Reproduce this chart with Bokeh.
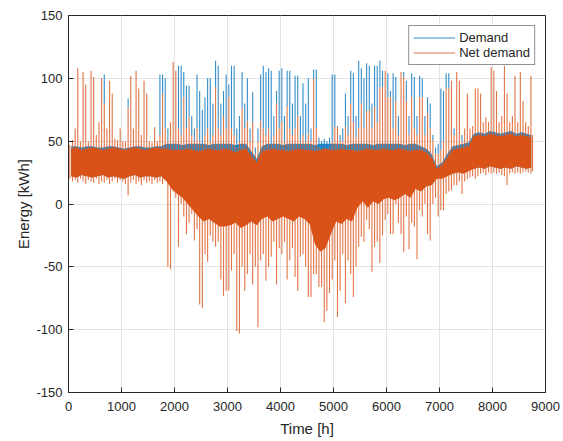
from bokeh.plotting import figure
from bokeh.models import Legend, LegendItem, FixedTicker, Range1d, ColumnDataSource
from bokeh.embed import file_html
from bokeh.resources import INLINE

YEAR_END = 8760  # hours in the year

# ---- 50-hour bins: estimated extremes [kWh] ----
hours50 = list(range(0, 8800, 50))
demand_max = [47, 51, 60, 108, 50, 105, 95, 50, 106, 101,
              55, 65, 100, 103, 60, 98, 88, 52, 51, 60,
              50, 50, 84, 102, 60, 106, 92, 55, 98, 88,
              50, 49, 61, 50, 103, 103, 100, 60, 65, 113,
              106, 110, 110, 105, 94, 94, 70, 60, 103, 90,
              75, 85, 100, 100, 80, 114, 110, 80, 90, 103,
              95, 110, 110, 60, 70, 105, 80, 100, 60, 89,
              45, 60, 103, 110, 105, 108, 106, 70, 90, 106,
              108, 70, 106, 106, 80, 102, 102, 70, 96, 80,
              100, 60, 107, 107, 53, 50, 52, 50, 53, 103,
              103, 62, 55, 60, 88, 70, 106, 104, 70, 114,
              108, 100, 112, 110, 80, 110, 110, 114, 106, 106,
              104, 90, 104, 101, 70, 105, 105, 98, 70, 104,
              101, 70, 102, 100, 70, 85, 80, 55, 45, 48,
              92, 90, 104, 104, 98, 60, 105, 98, 55, 60,
              88, 60, 62, 92, 92, 88, 65, 69, 65, 109,
              106, 90, 65, 70, 110, 88, 65, 70, 102, 65,
              105, 82, 65, 62, 102, 55]
net_max = [47, 51, 60, 108, 50, 105, 95, 50, 106, 101,
           55, 65, 100, 80, 60, 98, 88, 52, 51, 60,
           50, 50, 77, 102, 60, 106, 92, 55, 98, 88,
           50, 49, 61, 50, 55, 88, 60, 50, 65, 113,
           106, 60, 55, 85, 60, 69, 55, 50, 60, 50,
           48, 55, 60, 50, 55, 93, 60, 55, 70, 60,
           85, 60, 55, 45, 50, 76, 60, 66, 50, 65,
           40, 50, 66, 60, 55, 60, 48, 55, 80, 60,
           65, 50, 78, 60, 55, 60, 70, 50, 55, 50,
           56, 50, 100, 60, 45, 44, 45, 44, 45, 50,
           61, 61, 50, 50, 61, 55, 80, 65, 53, 60,
           80, 60, 74, 74, 60, 77, 65, 93, 93, 106,
           85, 85, 60, 82, 55, 105, 101, 82, 55, 85,
           60, 55, 85, 85, 55, 72, 60, 51, 40, 40,
           43, 50, 92, 92, 98, 55, 105, 98, 50, 60,
           88, 60, 62, 92, 92, 88, 65, 69, 65, 109,
           106, 90, 65, 70, 110, 88, 65, 70, 102, 65,
           105, 82, 65, 62, 102, 55]
net_min = [20, 18, 19, 17, 20, 18, 16, 19, 18, 17,
           20, 16, 18, 17, 19, 16, 18, 20, 17, 19,
           18, 16, 7, 17, 19, 16, 18, 15, 19, 17,
           18, 16, 19, 17, 18, 16, 19, -50, -52, 10,
           5, -34, 0, -10, -24, -15, -8, -29, -20, -80,
           -83, -40, -46, -25, -30, -34, -30, -60, -73, -69,
           -69, -53, -40, -101, -103, -50, -69, -56, -40, -64,
           -50, -98, -45, -40, -61, -50, -42, -30, -64, -35,
           -40, -30, -60, -45, -35, -58, -69, -42, -40, -50,
           -74, -74, -56, -56, -66, -66, -94, -85, -71, -60,
           -45, -90, -69, -40, -79, -45, -56, -74, -50, -34,
           -26, -30, -13, -20, -54, -34, -30, -47, -25, -13,
           -8, -24, -24, 0, -15, -24, -38, -10, -36, -15,
           -18, -44, -5, -10, 0, -24, -29, 0, 5, -10,
           -5, -5, 8, 10, 11, 15, 15, 18, 8, 18,
           20, 21, 22, 20, 22, 24, 25, 23, 25, 24,
           25, 24, 25, 23, 22, 15, 24, 25, 24, 25,
           24, 25, 26, 25, 24, 26]

# ---- 100-hour bins: estimated dense band (bulk of hourly values) [kWh] ----
hours100 = list(range(0, 8800, 100))
demand_lo = [22, 21, 23, 22, 21, 22, 23, 21, 22, 21,
             20, 22, 23, 21, 22, 22, 21, 22, 23, 24,
             24, 25, 24, 25, 24, 25, 24, 25, 24, 25,
             24, 25, 24, 25, 24, 25, 24, 25, 24, 25,
             24, 25, 24, 25, 24, 25, 24, 25, 24, 25,
             24, 25, 24, 25, 24, 25, 24, 25, 24, 25,
             24, 25, 24, 25, 24, 25, 24, 25, 24, 25,
             24, 25, 26, 27, 26, 27, 28, 29, 28, 30,
             29, 28, 29, 28, 30, 29, 28, 29]
demand_hi = [46, 46, 45, 46, 46, 45, 45, 46, 46, 45,
             44, 45, 46, 46, 45, 45, 46, 46, 48, 48,
             48, 47, 48, 48, 48, 48, 47, 48, 48, 48,
             48, 47, 48, 48, 42, 36, 46, 48, 48, 48,
             47, 48, 48, 48, 48, 48, 47, 48, 48, 48,
             48, 48, 47, 48, 48, 48, 48, 47, 48, 48,
             48, 48, 48, 47, 48, 48, 46, 44, 40, 30,
             33, 40, 46, 47, 48, 49, 56, 57, 56, 58,
             57, 56, 57, 58, 56, 57, 56, 55]
net_lo = [22, 21, 23, 22, 21, 22, 23, 21, 22, 21,
          20, 22, 23, 21, 22, 22, 21, 22, 18, 12,
          8, 5, 0, -5, -10, -14, -12, -15, -18, -18,
          -17, -15, -19, -17, -14, -17, -12, -10, -14, -12,
          -10, -12, -14, -10, -12, -16, -32, -38, -35, -24,
          -14, -16, -12, -14, -3, 2, -3, 2, 0, 4,
          5, 3, 5, 8, 5, 12, 10, 14, 15, 20,
          20, 22, 24, 25, 24, 26, 28, 29, 28, 30,
          29, 28, 29, 28, 30, 29, 28, 29]
net_hi = [44, 45, 43, 44, 45, 44, 43, 44, 45, 44,
          43, 44, 45, 44, 43, 44, 45, 44, 44, 43,
          43, 43, 44, 43, 42, 43, 44, 43, 43, 44,
          43, 41, 43, 44, 38, 33, 42, 43, 44, 43,
          43, 42, 43, 44, 43, 43, 42, 43, 44, 43,
          43, 44, 43, 43, 42, 43, 44, 43, 43, 44,
          43, 43, 44, 43, 42, 43, 43, 41, 37, 28,
          31, 37, 43, 44, 45, 46, 54, 55, 54, 56,
          55, 54, 55, 56, 54, 55, 54, 53]

x_ticks = [0, 1000, 2000, 3000, 4000, 5000, 6000, 7000, 8000, 9000]
y_ticks = [-150, -100, -50, 0, 50, 100, 150]
y_tick_labels = ["-150", "-100", "-50", "0", "50", "100", "150"]

BLUE = "#0072BD"
ORANGE = "#D95319"
AX = "#262626"
FONT = "Liberation Sans"


def mids(starts, width):
    return [(h + min(h + width, YEAR_END)) / 2 for h in starts]


spk = ColumnDataSource(dict(x=mids(hours50, 50), dmax=demand_max, nmax=net_max, nmin=net_min))
band = ColumnDataSource(dict(x=mids(hours100, 100), dlo=demand_lo, dhi=demand_hi,
                             nlo=net_lo, nhi=net_hi))

p = figure(width=563, height=441, output_backend="svg", toolbar_location=None,
           x_range=Range1d(0, 9000), y_range=Range1d(-150, 150),
           min_border_left=68, min_border_right=18, min_border_top=15, min_border_bottom=49)
p.background_fill_color = "white"
p.border_fill_color = "white"
p.outline_line_color = AX
p.outline_line_width = 1

p.xgrid.ticker = FixedTicker(ticks=x_ticks)
p.ygrid.ticker = FixedTicker(ticks=y_ticks)
p.grid.grid_line_color = "#E3E3E3"
p.grid.grid_line_width = 1

# Demand (drawn first, underneath)
p.varea(x="x", y1="dlo", y2="dhi", source=band, fill_color=BLUE, fill_alpha=0.8)
r_dem = p.segment(x0="x", y0="nmax", x1="x", y1="dmax", source=spk,
                  line_color=BLUE, line_width=1.1, line_alpha=0.8)
# Net demand (on top)
p.varea(x="x", y1="nlo", y2="nhi", source=band, fill_color=ORANGE, fill_alpha=1.0)
r_net = p.segment(x0="x", y0="nmin", x1="x", y1="nmax", source=spk,
                  line_color=ORANGE, line_width=1.1, line_alpha=0.8)

for ax in (p.xaxis[0], p.yaxis[0]):
    ax.major_tick_in = 5
    ax.major_tick_out = 0
    ax.minor_tick_in = 0
    ax.minor_tick_out = 0
    ax.axis_line_color = AX
    ax.major_tick_line_color = AX
    ax.major_label_text_color = AX
    ax.major_label_text_font = FONT
    ax.major_label_text_font_size = "13px"
    ax.axis_label_text_font = FONT
    ax.axis_label_text_font_size = "15px"
    ax.axis_label_text_font_style = "normal"
    ax.axis_label_text_color = AX

p.xaxis.ticker = FixedTicker(ticks=x_ticks)
p.yaxis.ticker = FixedTicker(ticks=y_ticks)
p.yaxis.major_label_overrides = dict(zip(y_ticks, y_tick_labels))
p.xaxis.axis_label = "Time [h]"
p.yaxis.axis_label = "Energy [kWh]"
p.xaxis.major_label_standoff = 9
p.xaxis.axis_label_standoff = 6
p.yaxis.major_label_standoff = 6
p.yaxis.axis_label_standoff = 1

legend = Legend(items=[LegendItem(label="Demand", renderers=[r_dem]),
                       LegendItem(label="Net demand", renderers=[r_net])],
                location="top_right")
legend.label_text_font = FONT
legend.label_text_font_size = "13px"
legend.label_text_color = AX
legend.border_line_color = AX
legend.border_line_width = 1
legend.background_fill_alpha = 1
legend.glyph_width = 42
legend.glyph_height = 15
legend.spacing = 0
legend.padding = 4
legend.margin = 10
legend.label_standoff = 4
legend.label_height = 15
p.add_layout(legend)

open("out.html", "w").write(file_html(p, INLINE))
